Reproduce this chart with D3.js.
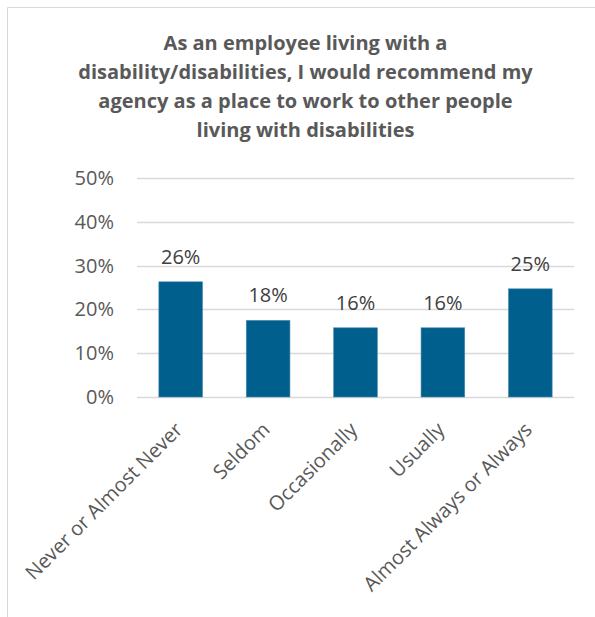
<!DOCTYPE html>
<html>
<head>
<meta charset="utf-8">
<script src="https://cdn.jsdelivr.net/npm/d3@7"></script>
<style>
  html, body { margin: 0; padding: 0; background: #fff; }
  svg { display: block; }
</style>
</head>
<body>
<svg id="chart" width="595" height="617"></svg>
<script>
// Survey responses
const categories = ["Never or Almost Never", "Seldom", "Occasionally", "Usually", "Almost Always or Always"];
const shares = [0.263, 0.175, 0.158, 0.158, 0.247];
const yTicks = [0, 0.1, 0.2, 0.3, 0.4, 0.5];
const titleLines = [
  "As an employee living with a",
  "disability/disabilities, I would recommend my",
  "agency as a place to work to other people",
  "living with disabilities"
];

const svg = d3.select("#chart");
const W = 595, H = 617;
const margin = { left: 137, right: 21, top: 178, bottom: 220 };
const font = "'Open Sans', sans-serif";

// Chart frame
svg.append("path")
  .attr("d", `M7.5,${H} L7.5,7.5 L${W},7.5`)
  .attr("fill", "none")
  .attr("stroke", "#d9d9d9")
  .attr("stroke-width", 1);

// Title
const title = svg.append("text")
  .attr("text-anchor", "middle")
  .attr("font-family", font)
  .attr("font-weight", "bold")
  .attr("font-size", 20)
  .attr("fill", "#595959");
titleLines.forEach((t, i) => {
  title.append("tspan").attr("x", 305.5).attr("y", 50 + i * 29).text(t);
});

const x = d3.scaleBand()
  .domain(categories)
  .range([margin.left, W - margin.right])
  .paddingInner(0.5)
  .paddingOuter(0.25);

const y = d3.scaleLinear()
  .domain([0, 0.5])
  .range([H - margin.bottom, margin.top]);

// Gridlines
svg.append("g")
  .selectAll("line")
  .data(yTicks)
  .join("line")
  .attr("x1", margin.left)
  .attr("x2", W - margin.right)
  .attr("y1", d => Math.round(y(d)) + 0.5)
  .attr("y2", d => Math.round(y(d)) + 0.5)
  .attr("stroke", "#d9d9d9")
  .attr("stroke-width", 1.3);

// Y axis labels
const yAxis = svg.append("g")
  .attr("transform", `translate(${margin.left},0)`)
  .call(d3.axisLeft(y).tickValues(yTicks).tickFormat(d3.format(".0%")).tickSize(0).tickPadding(23));
yAxis.select(".domain").remove();
yAxis.selectAll("text")
  .attr("font-family", font)
  .attr("font-size", 20)
  .attr("fill", "#595959");

// Bars
svg.append("g")
  .selectAll("rect")
  .data(shares)
  .join("rect")
  .attr("x", (d, i) => x(categories[i]))
  .attr("width", x.bandwidth())
  .attr("y", d => y(d))
  .attr("height", d => y(0) - y(d))
  .attr("fill", "#005f8c")
  .attr("stroke", "#4d8fb4")
  .attr("stroke-width", 0.6);

// Value labels
svg.append("g")
  .selectAll("text")
  .data(shares)
  .join("text")
  .attr("x", (d, i) => x(categories[i]) + x.bandwidth() / 2)
  .attr("y", d => y(d) - 18)
  .attr("text-anchor", "middle")
  .attr("font-family", font)
  .attr("font-size", 20)
  .attr("fill", "#404040")
  .text(d => d3.format(".0%")(d));

// Category labels, rotated
const xAxis = svg.append("g")
  .attr("transform", `translate(0,${y(0)})`)
  .call(d3.axisBottom(x).tickSize(0).tickPadding(0));
xAxis.select(".domain").remove();
xAxis.selectAll("text")
  .attr("font-family", font)
  .attr("font-size", 20)
  .attr("fill", "#595959")
  .attr("text-anchor", "end")
  .attr("dy", null)
  .attr("transform", "translate(3,34) rotate(-45)");
</script>
</body>
</html>
